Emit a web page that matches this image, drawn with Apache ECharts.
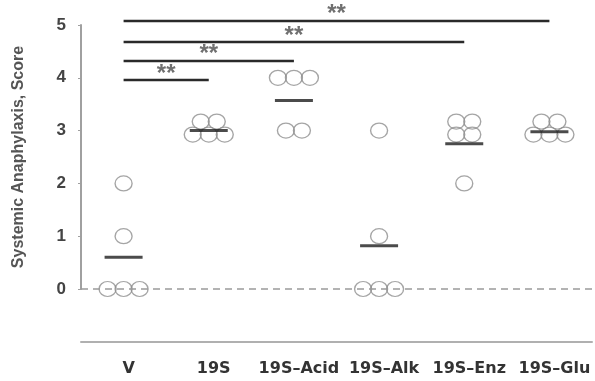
<!DOCTYPE html>
<html><head><meta charset="utf-8">
<script src="https://cdn.jsdelivr.net/npm/echarts@6/dist/echarts.min.js"></script>
<style>html,body{margin:0;padding:0;background:#fff}#c{width:595px;height:381px}</style>
</head><body><div id="c"></div>
<script>
const categories = ['V', '19S', '19S\u2013Acid', '19S\u2013Alk', '19S\u2013Enz', '19S\u2013Glu'];
const scoresV = [0, 0, 0, 1, 2];
const scores19S = [3, 3, 3, 3, 3];
const scoresAcid = [4, 4, 4, 3, 3];
const scoresAlk = [0, 0, 0, 1, 3];
const scoresEnz = [3, 3, 3, 3, 2];
const scoresGlu = [3, 3, 3, 3, 3];
const groupScores = [scoresV, scores19S, scoresAcid, scoresAlk, scoresEnz, scoresGlu];
const means = [0.6, 3.0, 3.57, 0.82, 2.75, 2.98];
const sigFrom = ['V', 'V', 'V', 'V'];
const sigTo = ['19S', '19S\u2013Acid', '19S\u2013Enz', '19S\u2013Glu'];
const sigLevels = [3.96, 4.33, 4.68, 5.08];
const sigLabels = ['**', '**', '**', '**'];
const yTicks = [0, 1, 2, 3, 4, 5];

const FONT = 'Liberation Sans';
const STEP = 16;
const Y_MAX = 5, Y_TOP = 25, Y_BOTTOM = 92, H = 381;
const DATA_MAX = 5.2;
const unit = (H - Y_TOP - Y_BOTTOM) / Y_MAX;
const dataTop = Y_TOP - (DATA_MAX - Y_MAX) * unit;

// beeswarm-style offsets for duplicate values
function rowLayout(n) {
  const o = [];
  if (n <= 3) {
    for (let i = 0; i < n; i++) o.push([(i - (n - 1) / 2) * STEP, 0]);
    return o;
  }
  const nb = n === 4 ? 2 : 3, nt = n - nb;
  for (let i = 0; i < nb; i++) o.push([(i - (nb - 1) / 2) * STEP, 4]);
  for (let i = 0; i < nt; i++) o.push([(i - (nt - 1) / 2) * STEP, -9]);
  return o;
}
const pointData = [];
groupScores.forEach((arr, gi) => {
  const counts = {};
  arr.forEach(v => counts[v] = (counts[v] || 0) + 1);
  Object.keys(counts).forEach(k => {
    rowLayout(counts[k]).forEach(off => {
      pointData.push({ value: [categories[gi], Number(k)], symbolOffset: off });
    });
  });
});

const series = [
  {
    type: 'scatter', name: 'pts', data: pointData, symbol: 'circle', symbolSize: [17, 15],
    itemStyle: { color: 'rgba(255,255,255,0)', borderColor: '#8e8e8e', borderWidth: 1.3 },
    z: 3,
    markLine: {
      silent: true, symbol: 'none', label: { show: false },
      lineStyle: { color: '#9a9a9a', type: [7, 5], width: 1.6 },
      data: [{ yAxis: 0 }]
    }
  },
  {
    type: 'scatter', name: 'means', data: categories.map((c, i) => [c, means[i]]),
    symbol: 'rect', symbolSize: [38, 3], itemStyle: { color: '#1e1e1e' }, z: 4
  }
];
sigLevels.forEach((lv, i) => {
  series.push({
    type: 'line', data: [[sigFrom[i], lv], [sigTo[i], lv]],
    symbol: 'none', lineStyle: { opacity: 0 }, z: 2,
    markLine: {
      silent: true, symbol: 'none',
      lineStyle: { color: '#2a2a2a', width: 2.4, type: 'solid' },
      label: { show: true, position: 'middle', formatter: sigLabels[i], color: '#707070',
        fontFamily: FONT, fontWeight: 'bold', fontSize: 24, distance: -6 },
      data: [[{ coord: [sigFrom[i], lv] }, { coord: [sigTo[i], lv] }]]
    }
  });
});

const chart = echarts.init(document.getElementById('c'));
chart.setOption({
  animation: false,
  grid: [
    { left: 81, right: 3, top: dataTop, bottom: Y_BOTTOM },
    { left: 81, right: 3, top: Y_TOP, bottom: Y_BOTTOM }
  ],
  xAxis: [
    {
      gridIndex: 0, type: 'category', data: categories, boundaryGap: true, offset: 53,
      axisLine: { show: true, onZero: false, lineStyle: { color: '#b0b0b0', width: 2 } },
      axisTick: { show: false },
      axisLabel: { color: '#333', fontFamily: 'DejaVu Sans', fontWeight: 'bold', fontSize: 16, margin: 19,
        interval: 0, padding: [0, 0, 0, 10] }
    },
    { gridIndex: 1, type: 'category', data: categories, show: false }
  ],
  yAxis: [
    {
      gridIndex: 0, type: 'value', min: 0, max: DATA_MAX, show: false, splitLine: { show: false }
    },
    {
      gridIndex: 1, type: 'value', min: 0, max: Y_MAX, interval: 1,
      name: 'Systemic Anaphylaxis, Score', nameLocation: 'middle', nameGap: 54,
      nameTextStyle: { color: '#555', fontFamily: FONT, fontWeight: 'bold', fontSize: 16 },
      axisLine: { show: true, lineStyle: { color: '#a0a0a0', width: 2 } },
      axisTick: { show: true, length: 3, lineStyle: { color: '#a0a0a0' } },
      axisLabel: { color: '#444', fontFamily: FONT, fontWeight: 'bold', fontSize: 17, margin: 15,
        formatter: v => yTicks.includes(v) ? String(v) : '' },
      splitLine: { show: false }
    }
  ],
  series: series
});
</script></body></html>
